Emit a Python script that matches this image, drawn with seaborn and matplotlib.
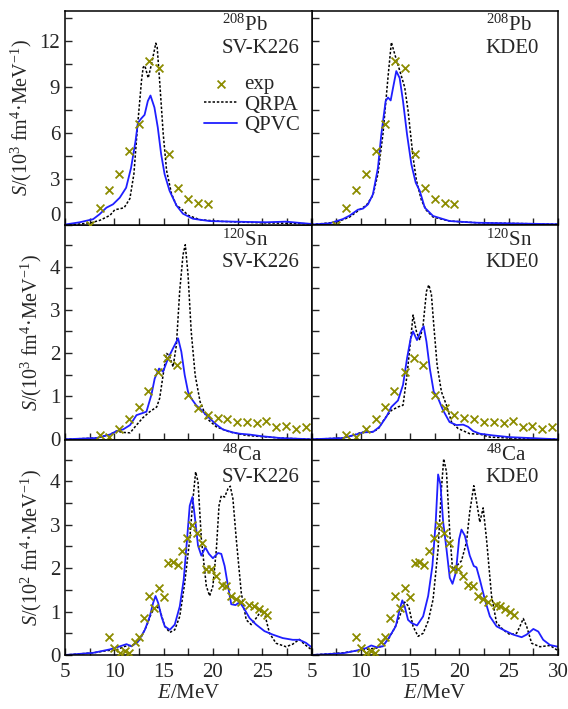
import numpy as np
import pandas as pd
import matplotlib
matplotlib.use("Agg")
import matplotlib.pyplot as plt
import matplotlib.transforms as mtrans
from matplotlib.ticker import MultipleLocator, FixedLocator, FixedFormatter
import seaborn as sns

# ---------------- data ----------------
# 208Pb experiment
pb_exp_E = [7.5, 8.5, 9.5, 10.5, 11.5, 12.5, 13.5, 14.5, 15.5, 16.5, 17.5, 18.5, 19.5]
pb_exp_S = [0.05, 1.15, 2.32, 3.36, 4.84, 6.62, 10.74, 10.27, 4.62, 2.43, 1.69, 1.48, 1.39]
# 208Pb SV-K226
pb_sv_qrpa_E = [5.0, 7.53, 8.55, 9.56, 10.06, 10.57, 11.0, 11.58, 11.99, 12.32, 12.76, 12.93, 13.1, 13.44,
                13.77, 14.21, 14.35, 14.62, 14.96, 15.3, 15.8, 16.3, 16.8, 17.5, 18.66, 20.7, 24.7, 29.8, 30.0]
pb_sv_qrpa_S = [0.0, 0.15, 0.33, 0.65, 1.02, 1.08, 1.15, 1.74, 3.36, 6.18, 9.44, 10.3, 10.4, 9.6,
                10.5, 11.87, 11.6, 9.2, 5.97, 3.58, 2.06, 1.3, 1.08, 0.65, 0.37, 0.26, 0.17, 0.1, 0.1]
pb_sv_qpvc_E = [5.0, 6.5, 7.85, 8.5, 9.2, 9.87, 10.55, 11.2, 11.7, 12.15, 12.39, 12.73, 13.07, 13.4, 13.67,
                14.07, 14.41, 14.75, 15.1, 15.6, 16.3, 16.96, 17.97, 19.65, 22.0, 25.4, 27.4, 29.8, 30.0]
pb_sv_qpvc_S = [0.05, 0.2, 0.4, 0.72, 1.15, 1.37, 1.8, 2.45, 3.75, 5.48, 6.67, 6.96, 7.2, 8.1, 8.46,
                7.68, 6.38, 4.64, 3.34, 2.26, 1.3, 0.76, 0.43, 0.28, 0.24, 0.2, 0.24, 0.1, 0.1]
# 208Pb KDE0
pb_kd_qrpa_E = [5.0, 7.51, 8.86, 9.88, 10.56, 11.23, 11.74, 12.25, 12.76, 13.1, 13.43, 13.94, 14.45, 14.79,
                15.3, 15.64, 16.15, 16.65, 17.33, 19.0, 21.7, 30.0]
pb_kd_qrpa_S = [0.05, 0.2, 0.54, 1.02, 1.3, 1.95, 3.36, 5.97, 9.66, 11.93, 11.18, 10.1, 9.0, 7.49,
                4.45, 2.93, 1.63, 0.98, 0.54, 0.28, 0.17, 0.07]
pb_kd_qpvc_E = [5.0, 6.83, 8.19, 8.86, 9.71, 10.22, 10.73, 11.23, 11.74, 12.08, 12.52, 12.76, 13.03, 13.27,
                13.6, 13.94, 14.28, 14.69, 15.13, 15.57, 15.98, 16.49, 17.33, 19.0, 21.7, 30.0]
pb_kd_qpvc_S = [0.05, 0.13, 0.41, 0.63, 1.02, 1.09, 1.37, 2.02, 3.75, 5.92, 8.1, 8.33, 8.14, 8.96,
                10.05, 9.6, 8.1, 5.92, 3.97, 2.78, 2.24, 1.15, 0.61, 0.28, 0.17, 0.07]

# 120Sn experiment
sn_exp_E = [8.5, 9.5, 10.5, 11.5, 12.5, 13.4, 14.45, 15.35, 16.35, 17.5, 18.5, 19.5, 20.5, 21.45,
            22.45, 23.5, 24.5, 25.4, 26.4, 27.4, 28.4, 29.4]
sn_exp_S = [0.09, 0.05, 0.23, 0.46, 0.75, 1.12, 1.57, 1.89, 1.72, 1.02, 0.73, 0.57, 0.5, 0.46,
            0.4, 0.4, 0.38, 0.43, 0.29, 0.31, 0.25, 0.29]
# 120Sn SV-K226
sn_sv_qrpa_E = [5.0, 8.2, 9.55, 10.23, 10.9, 11.6, 12.25, 12.9, 13.6, 14.3, 14.6, 14.95, 15.29, 15.56, 15.96,
                16.3, 16.63, 16.97, 17.2, 17.48, 17.8, 18.2, 18.7, 19.4, 20.35, 21.7, 23.4, 26.8, 30.0]
sn_sv_qrpa_S = [0.0, 0.03, 0.11, 0.19, 0.16, 0.15, 0.33, 0.5, 0.64, 0.75, 0.95, 1.49, 1.99, 1.95, 1.68,
                2.19, 3.43, 4.28, 4.51, 3.81, 2.5, 1.49, 0.87, 0.48, 0.29, 0.17, 0.09, 0.03, 0.0]
sn_sv_qpvc_E = [5.0, 8.2, 9.55, 10.23, 10.9, 11.6, 12.25, 12.76, 13.26, 13.76, 14.1, 14.54, 14.95, 15.46,
                15.96, 16.47, 16.8, 17.14, 17.48, 17.8, 18.3, 19.0, 19.7, 20.35, 21.0, 22.0, 22.7, 23.7,
                25.0, 26.8, 30.0]
sn_sv_qpvc_S = [0.0, 0.03, 0.11, 0.19, 0.23, 0.33, 0.56, 0.6, 0.64, 1.03, 1.41, 1.64, 1.57, 1.88,
                2.11, 2.34, 2.03, 1.49, 1.1, 0.95, 0.79, 0.64, 0.48, 0.34, 0.23, 0.16, 0.13, 0.11,
                0.07, 0.03, 0.0]
# 120Sn KDE0
sn_kd_qrpa_E = [5.0, 8.2, 9.2, 10.05, 11.06, 11.74, 12.42, 13.1, 13.77, 14.28, 14.69, 15.03, 15.3, 15.64,
                15.98, 16.32, 16.66, 16.9, 17.16, 17.4, 17.74, 18.18, 18.69, 19.2, 19.87, 21.05, 22.07,
                23.1, 25.1, 30.0]
sn_kd_qrpa_S = [0.0, 0.03, 0.09, 0.16, 0.17, 0.23, 0.48, 0.67, 0.75, 0.79, 1.49, 2.26, 2.88, 2.5,
                2.3, 2.65, 3.43, 3.58, 3.36, 2.65, 1.72, 1.1, 0.79, 0.4, 0.25, 0.13, 0.12,
                0.05, 0.03, 0.0]
sn_kd_qpvc_E = [5.0, 8.2, 9.5, 10.22, 11.23, 11.9, 12.59, 13.1, 13.77, 14.28, 14.69, 15.06, 15.3, 15.7,
                16.08, 16.38, 16.66, 17.0, 17.4, 17.84, 18.35, 19.0, 19.7, 20.38, 20.88, 21.4, 22.07,
                23.4, 25.1, 30.0]
sn_kd_qpvc_S = [0.0, 0.03, 0.11, 0.16, 0.17, 0.29, 0.52, 0.75, 0.9, 1.26, 1.88, 2.34, 2.5, 2.3,
                2.5, 2.62, 2.26, 1.64, 1.1, 0.95, 0.67, 0.4, 0.33, 0.34, 0.29, 0.19, 0.13,
                0.09, 0.05, 0.0]

# 48Ca experiment
ca_exp_E = [9.5, 10.0, 10.55, 11.05, 11.45, 12.05, 12.5, 13.0, 13.5, 14.0, 14.5, 15.0, 15.45, 15.95,
            16.45, 16.9, 17.4, 17.9, 18.4, 18.9, 19.35, 19.85, 20.35, 20.9, 21.35, 21.85, 22.35,
            22.85, 23.7, 24.15, 24.65, 25.15, 25.5]
ca_exp_S = [0.41, 0.16, 0.05, 0.09, 0.05, 0.31, 0.41, 0.85, 1.36, 1.09, 1.55, 1.34, 2.13, 2.15,
            2.07, 2.4, 2.69, 3.0, 2.81, 2.58, 1.99, 1.99, 1.82, 1.61, 1.59, 1.37, 1.29,
            1.22, 1.15, 1.13, 1.07, 0.98, 0.92]
# 48Ca SV-K226
ca_sv_qrpa_E = [5.0, 7.87, 9.22, 10.23, 11.07, 11.91, 12.59, 13.26, 13.77, 14.28, 14.61, 15.12, 15.63,
                16.13, 16.64, 17.14, 17.65, 17.98, 18.25, 18.49, 18.83, 19.33, 19.67, 20.0, 20.35,
                20.62, 20.85, 21.19, 21.53, 21.76, 22.03, 22.37, 22.88, 23.38, 23.89, 24.39, 24.9,
                25.23, 25.74, 26.41, 27.42, 28.1, 28.77, 29.28, 30.0]
ca_sv_qrpa_S = [0.0, 0.05, 0.1, 0.12, 0.2, 0.23, 0.35, 0.66, 0.97, 1.12, 1.05, 0.66, 0.52,
                0.58, 0.89, 1.66, 2.67, 3.6, 4.22, 3.99, 2.67, 1.59, 1.36, 1.59, 2.43,
                3.44, 3.67, 3.64, 3.83, 3.89, 3.6, 2.67, 1.43, 0.81, 0.7, 0.85, 1.02,
                0.97, 0.5, 0.27, 0.19, 0.25, 0.36, 0.25, 0.12]
ca_sv_qpvc_E = [5.0, 7.87, 9.56, 10.57, 11.24, 11.74, 12.42, 13.1, 13.6, 13.94, 14.18, 14.45, 14.78,
                15.12, 15.63, 16.13, 16.64, 17.04, 17.38, 17.65, 17.92, 18.15, 18.49, 18.83, 19.23,
                19.6, 20.0, 20.52, 20.85, 21.19, 21.53, 21.86, 22.3, 22.71, 23.21, 23.72, 24.39,
                25.23, 26.07, 27.08, 28.1, 28.77, 29.44, 30.0]
ca_sv_qpvc_S = [0.0, 0.05, 0.13, 0.2, 0.25, 0.2, 0.31, 0.58, 0.89, 1.2, 1.36, 1.2, 0.89,
                0.66, 0.58, 0.7, 1.12, 1.74, 2.67, 3.44, 3.64, 3.22, 2.52, 2.29, 2.48,
                2.33, 2.23, 2.35, 2.33, 2.05, 1.59, 1.17, 1.15, 1.22, 1.05, 0.85, 0.7,
                0.55, 0.47, 0.39, 0.35, 0.35, 0.28, 0.18]
# 48Ca KDE0
ca_kd_qrpa_E = [5.0, 8.2, 9.54, 10.56, 11.57, 12.08, 12.76, 13.43, 13.94, 14.45, 14.86, 15.3, 15.81,
                16.32, 16.83, 17.33, 17.84, 18.18, 18.41, 18.69, 19.02, 19.3, 19.7, 20.21, 20.72,
                21.05, 21.46, 21.8, 22.07, 22.41, 22.75, 23.26, 23.77, 24.45, 25.12, 25.8, 26.14,
                26.48, 26.82, 27.33, 28.17, 29.19, 29.87, 30.0]
ca_kd_qrpa_S = [0.0, 0.05, 0.1, 0.13, 0.16, 0.2, 0.35, 0.62, 0.89, 1.22, 1.12, 0.66, 0.43,
                0.5, 0.78, 1.28, 2.44, 3.84, 4.52, 4.22, 2.83, 1.98, 2.05, 2.17, 2.6,
                3.3, 3.9, 3.45, 3.06, 3.39, 2.67, 1.36, 0.74, 0.58, 0.47, 0.5, 0.66,
                0.84, 0.66, 0.27, 0.19, 0.22, 0.12, 0.1]
ca_kd_qpvc_E = [5.0, 8.2, 9.54, 10.56, 11.06, 11.57, 12.25, 12.93, 13.54, 13.94, 14.21, 14.45, 14.79,
                15.13, 15.7, 16.32, 16.83, 17.26, 17.6, 17.84, 18.08, 18.35, 18.69, 19.02, 19.3,
                19.64, 19.97, 20.21, 20.55, 21.05, 21.46, 21.73, 22.07, 22.58, 23.09, 23.77, 24.45,
                25.46, 26.31, 26.82, 27.5, 28.0, 28.5, 29.19, 30.0]
ca_kd_qpvc_S = [0.0, 0.04, 0.1, 0.16, 0.22, 0.18, 0.2, 0.43, 0.66, 1.05, 1.26, 1.12, 0.81,
                0.74, 0.68, 0.89, 1.36, 2.05, 3.07, 4.16, 3.93, 3.07, 2.44, 1.78, 1.64,
                1.9, 2.67, 2.89, 2.75, 2.29, 2.05, 2.02, 1.74, 1.28, 0.89, 0.66, 0.58,
                0.47, 0.41, 0.47, 0.6, 0.54, 0.35, 0.23, 0.19]

nuclei = ["$^{208}$Pb", "$^{120}$Sn", "$^{48}$Ca"]
forces = ["SV-K226", "KDE0"]
ylabels = [r"$S$/(10$^3$ fm$^4$·MeV$^{-1}$)",
           r"$S$/(10$^3$ fm$^4$·MeV$^{-1}$)",
           r"$S$/(10$^2$ fm$^4$·MeV$^{-1}$)"]
xlabel = r"$E$/MeV"
legend_labels = ["exp", "QRPA", "QPVC"]
xtick_vals = [5, 10, 15, 20, 25, 30]
xtick_left = ["5", "10", "15", "20", "25", ""]
xtick_right = ["5", "10", "15", "20", "25", "30"]

exp_data = [(pb_exp_E, pb_exp_S), (sn_exp_E, sn_exp_S), (ca_exp_E, ca_exp_S)]
qrpa_data = [[(pb_sv_qrpa_E, pb_sv_qrpa_S), (pb_kd_qrpa_E, pb_kd_qrpa_S)],
             [(sn_sv_qrpa_E, sn_sv_qrpa_S), (sn_kd_qrpa_E, sn_kd_qrpa_S)],
             [(ca_sv_qrpa_E, ca_sv_qrpa_S), (ca_kd_qrpa_E, ca_kd_qrpa_S)]]
qpvc_data = [[(pb_sv_qpvc_E, pb_sv_qpvc_S), (pb_kd_qpvc_E, pb_kd_qpvc_S)],
             [(sn_sv_qpvc_E, sn_sv_qpvc_S), (sn_kd_qpvc_E, sn_kd_qpvc_S)],
             [(ca_sv_qpvc_E, ca_sv_qpvc_S), (ca_kd_qpvc_E, ca_kd_qpvc_S)]]

# ---------------- style ----------------
sns.set_style("ticks")
plt.rcParams["font.family"] = ["Liberation Serif", "DejaVu Serif"]
plt.rcParams["mathtext.fontset"] = "custom"
plt.rcParams["mathtext.rm"] = "Liberation Serif"
plt.rcParams["mathtext.it"] = "Liberation Serif:italic"
plt.rcParams["axes.linewidth"] = 1.1

FS = 15
exp_color = "#8c8c00"
qpvc_color = "#1f1fff"

ylims = [(0, 14.0), (-0.02, 4.96), (0, 4.95)]
ymajor = [3, 1, 1]
yminor = [1.5, 0.5, 0.5]

fig, axes = plt.subplots(3, 2, figsize=(5.68, 7.09), dpi=100)
fig.subplots_adjust(left=65/568, right=558/568, top=1-10.5/709, bottom=1-655/709,
                    hspace=0, wspace=0)

for r in range(3):
    for c in range(2):
        ax = axes[r, c]
        eE, eS = exp_data[r]
        qE, qS = qrpa_data[r][c]
        pE, pS = qpvc_data[r][c]
        sns.scatterplot(x=eE, y=eS, ax=ax, marker="x", color=exp_color, s=32,
                        linewidth=1.3, label=legend_labels[0], zorder=3)
        sns.lineplot(x=qE, y=qS, ax=ax, color="black", linestyle=(0, (1.6, 1.2)),
                     linewidth=1.1, sort=False, estimator=None, label=legend_labels[1], zorder=2)
        sns.lineplot(x=pE, y=pS, ax=ax, color=qpvc_color, linestyle="-",
                     linewidth=1.3, sort=False, estimator=None, label=legend_labels[2], zorder=2)
        if ax.get_legend() is not None:
            ax.get_legend().remove()

        ax.set_xlim(5, 30)
        ax.set_ylim(*ylims[r])
        ax.xaxis.set_major_locator(FixedLocator(xtick_vals))
        ax.xaxis.set_minor_locator(MultipleLocator(2.5))
        ax.yaxis.set_major_locator(MultipleLocator(ymajor[r]))
        ax.yaxis.set_minor_locator(MultipleLocator(yminor[r]))
        ax.tick_params(axis="both", which="both", direction="in", length=5, width=1.0,
                       labelsize=FS, top=False, right=False)
        ax.tick_params(axis="x", pad=6)
        for sp in ax.spines.values():
            sp.set_visible(True)
            sp.set_color("black")

        if c == 0:
            ax.set_ylabel(ylabels[r], fontsize=FS - 0.5, labelpad=4)
        else:
            ax.set_ylabel("")
            ax.tick_params(axis="y", labelleft=False)

        if r == 2:
            ax.xaxis.set_major_formatter(FixedFormatter(xtick_left if c == 0 else xtick_right))
            ax.set_xlabel(xlabel, fontsize=FS, labelpad=1)
        else:
            ax.tick_params(axis="x", labelbottom=False)
            ax.set_xlabel("")

        tx = 0.636 if c == 0 else 0.707
        ax.text(tx, 0.93, nuclei[r], transform=ax.transAxes, fontsize=FS,
                ha="left", va="center")
        ax.text(tx, 0.825, forces[c], transform=ax.transAxes, fontsize=FS,
                ha="left", va="center")

# shift top row "0" label upward slightly
fig.canvas.draw()
for lab in axes[0, 0].get_yticklabels():
    if lab.get_text() == "0":
        lab.set_transform(lab.get_transform() + mtrans.ScaledTranslation(0, 8/72, fig.dpi_scale_trans))

# legend in top-left panel
axes[0, 0].set_zorder(5)
h, l = axes[0, 0].get_legend_handles_labels()
order = [l.index(n) for n in legend_labels]
axes[0, 0].legend([h[i] for i in order], [l[i] for i in order], loc="upper left",
                  bbox_to_anchor=(0.505, 0.77), frameon=False, fontsize=FS,
                  handlelength=1.6, handletextpad=0.3, labelspacing=0.05, borderpad=0.2)

fig.savefig("out.png", dpi=100)
